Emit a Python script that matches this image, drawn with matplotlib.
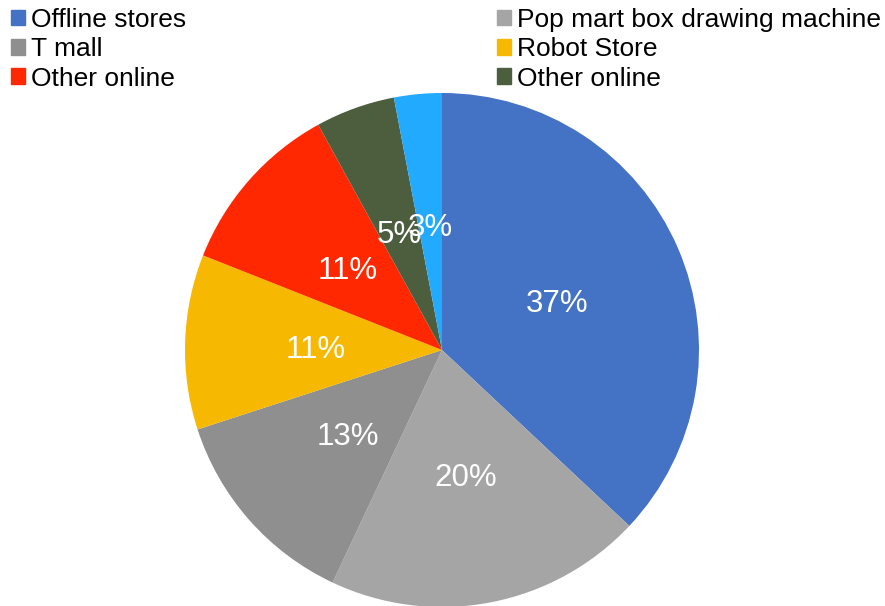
import matplotlib.pyplot as plt
from matplotlib.patches import Patch

plt.rcParams['font.family'] = ['Liberation Sans', 'DejaVu Sans']

# data
labels = ['Offline stores', 'Pop mart box drawing machine', 'T mall', 'Robot Store',
          'Other online', 'Other online', '']
values = [37, 20, 13, 11, 11, 5, 3]
colors = ['#4472C4', '#A5A5A5', '#8F8F8F', '#F6B800', '#FF2800', '#4C5E3E', '#22AAFF']

fig = plt.figure(figsize=(8.85, 6.06), dpi=100)
ax = fig.add_axes([185 / 885, -1 / 606, 514 / 885, 514 / 606])

wedges, texts, autotexts = ax.pie(values, colors=colors, startangle=90, counterclock=False,
                                  autopct='%d%%', pctdistance=0.49, radius=1,
                                  textprops=dict(color='white', fontsize=22.5))
# labels sit a little lower in the original
for t in autotexts:
    x, y = t.get_position()
    t.set_position((x, y - 0.015))
ax.set_xlim(-1, 1)
ax.set_ylim(-1, 1)
ax.set_aspect('equal')
ax.axis('off')

# legend in two columns, filled row by row
left = [Patch(color=colors[i], label=labels[i]) for i in (0, 2, 4)]
right = [Patch(color=colors[i], label=labels[i]) for i in (1, 3, 5)]
kw = dict(loc='upper left', frameon=False, fontsize=19, handlelength=0.53,
          handleheight=0.53, handletextpad=0.23, labelspacing=0.2, borderpad=0,
          borderaxespad=0)
fig.legend(handles=left, bbox_to_anchor=(11 / 885, 1 - 8 / 606), **kw)
fig.legend(handles=right, bbox_to_anchor=(497 / 885, 1 - 8 / 606), **kw)

fig.savefig('out.png', dpi=100)
